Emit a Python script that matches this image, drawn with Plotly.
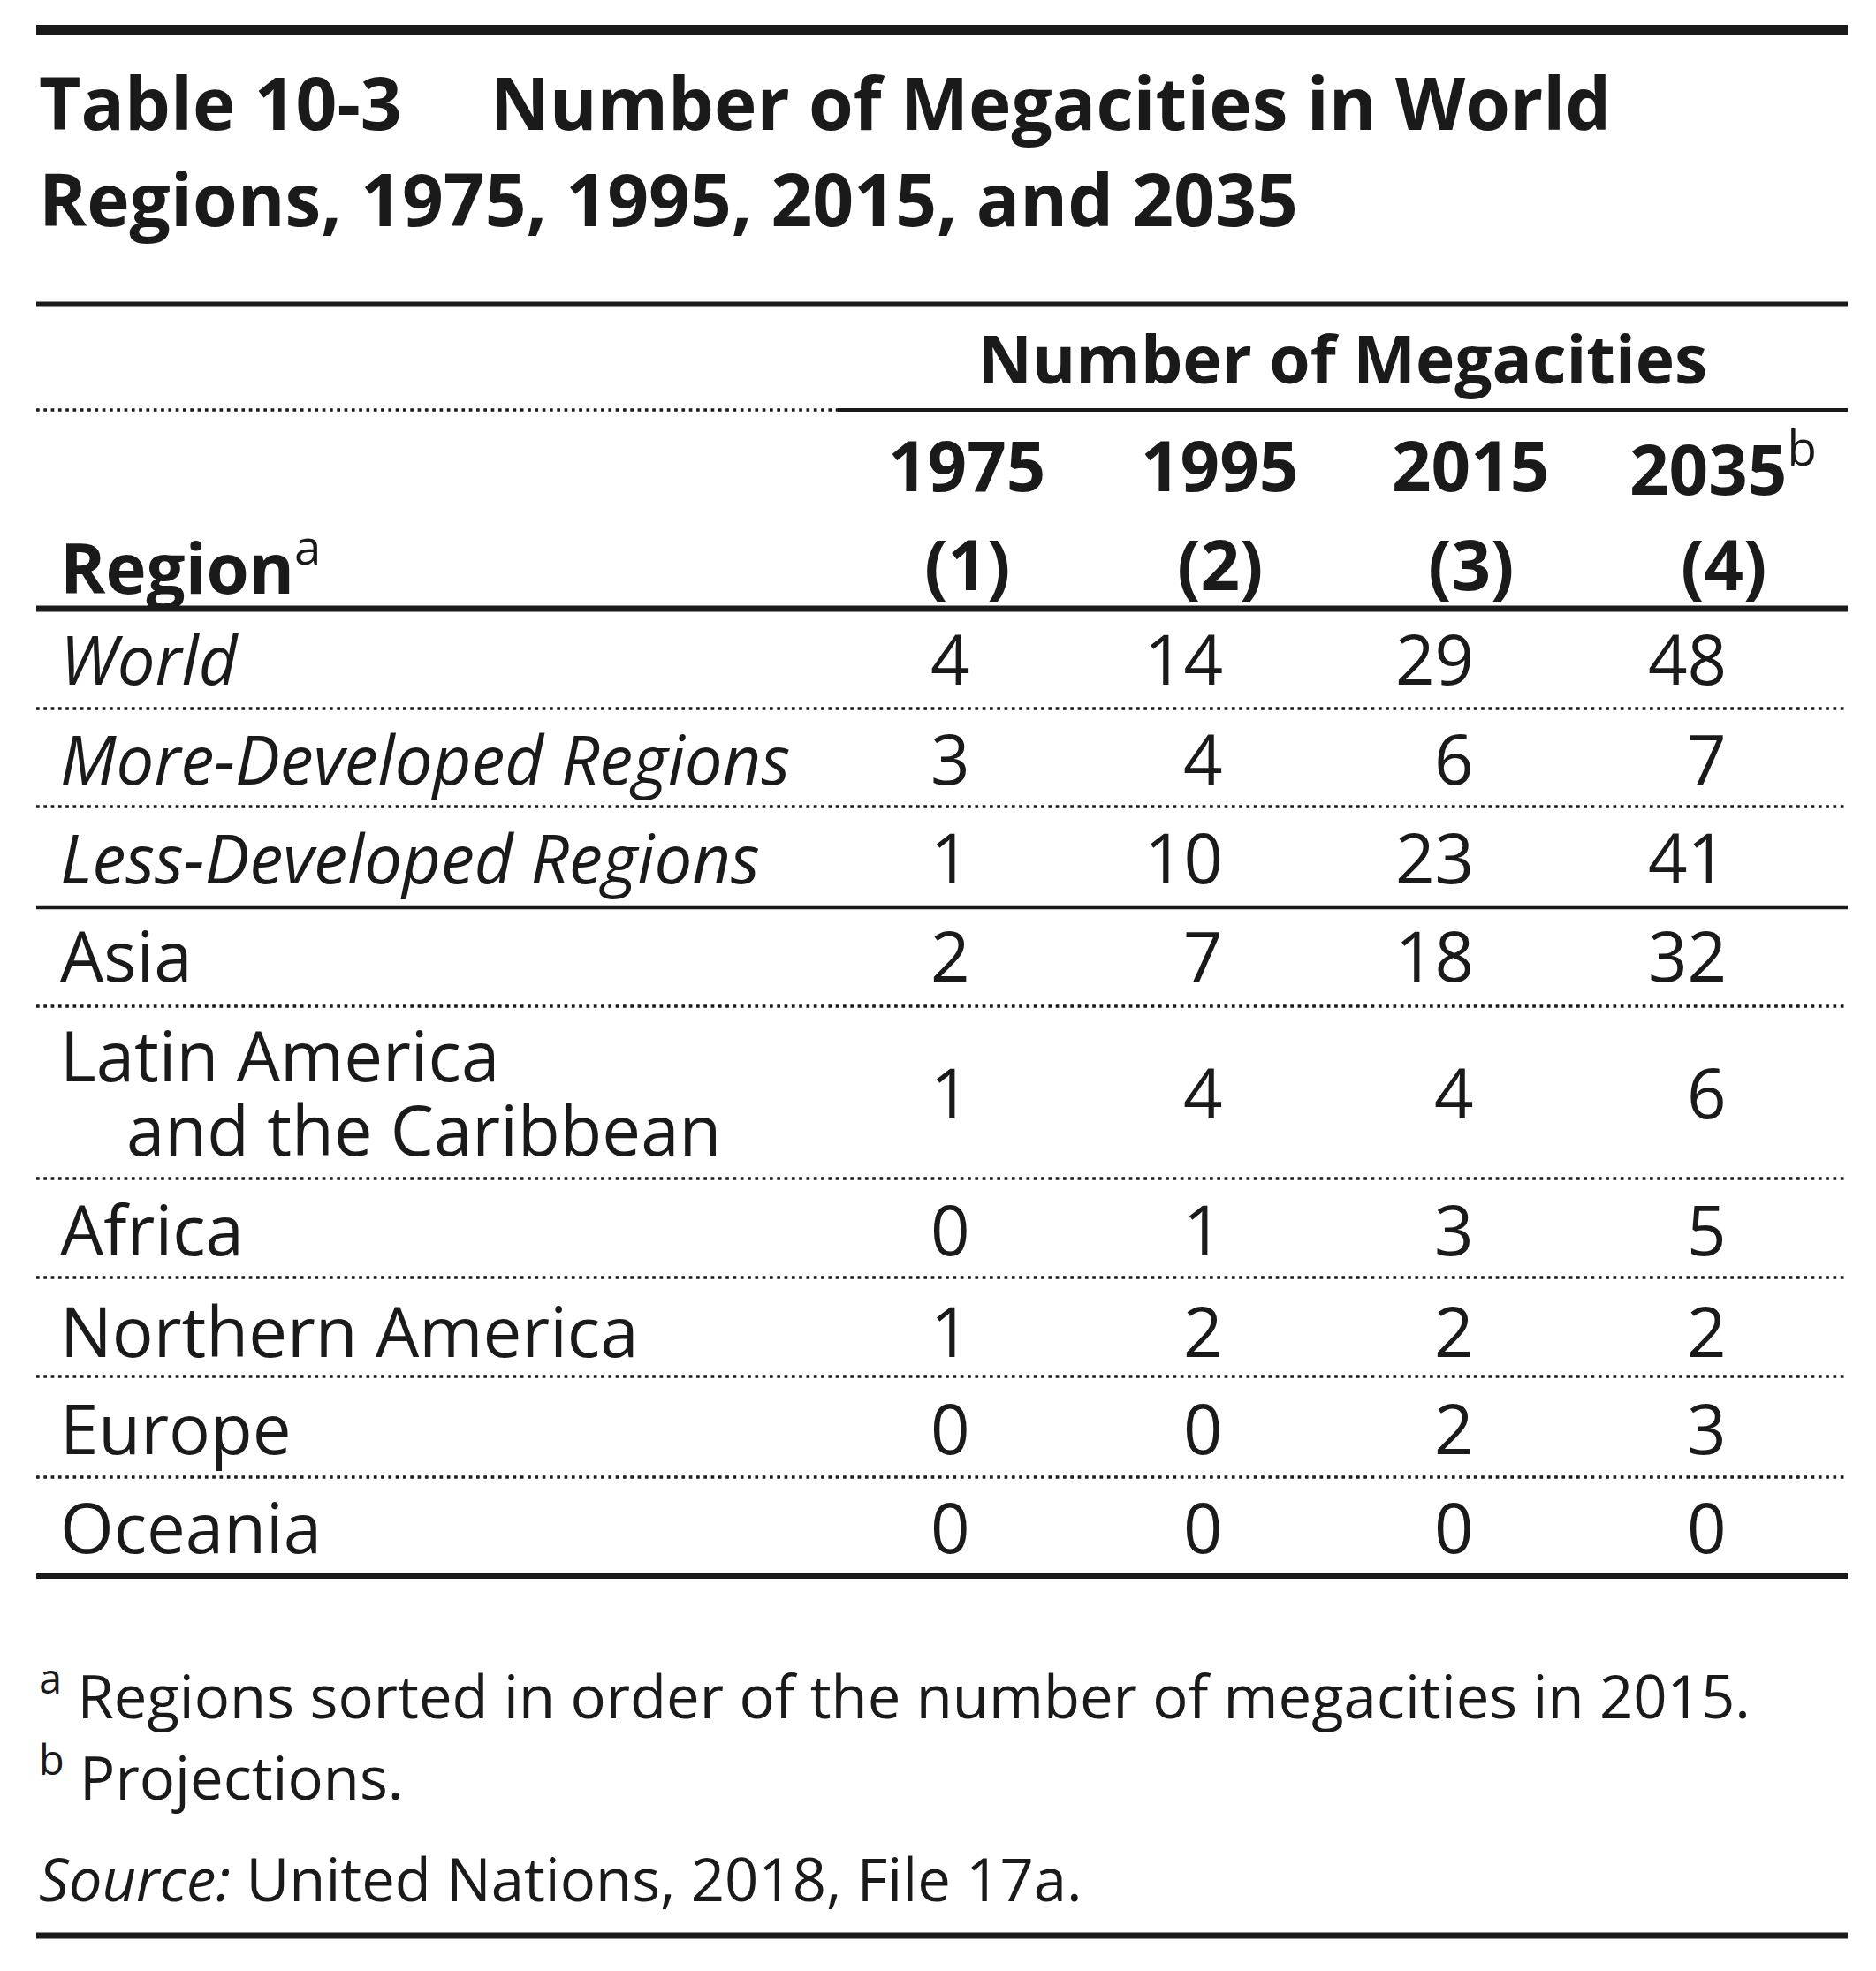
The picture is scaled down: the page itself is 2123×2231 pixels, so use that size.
import plotly.graph_objs as go

# datos de la tabla
regiones = ['World', 'More-Developed Regions', 'Less-Developed Regions', 'Asia',
            'Latin America\nand the Caribbean', 'Africa', 'Northern America', 'Europe', 'Oceania']
cursiva = [True, True, True, False, False, False, False, False, False]
anios = ['1975', '1995', '2015', '2035']
nota_anio = ['', '', '', 'b']
columnas = ['(1)', '(2)', '(3)', '(4)']
valores_1975 = [4, 3, 1, 2, 1, 0, 1, 0, 0]
valores_1995 = [14, 4, 10, 7, 4, 1, 2, 0, 0]
valores_2015 = [29, 6, 23, 18, 4, 3, 2, 2, 0]
valores_2035 = [48, 7, 41, 32, 6, 5, 2, 3, 0]

titulo_1 = 'Table 10-3'
titulo_2 = 'Number of Megacities in World'
titulo_3 = 'Regions, 1975, 1995, 2015, and 2035'
cabecera = 'Number of Megacities'
nota_a = 'Regions sorted in order of the number of megacities in 2015.'
nota_b = 'Projections.'
fuente = 'United Nations, 2018, File 17a.'

# maquetación (en píxeles de la imagen)
ANCHO, ALTO = 2123, 2231
X0, X1 = 41, 2091
X_TEXTO = 66
x_col = [1094, 1380, 1664, 1950]
DESV_NUM = 6  # los números van alineados a la derecha
y_fila = [745, 858, 970, 1081, 1236, 1391, 1506, 1616, 1728]
FUENTE = 'Open Sans'
NEGRO = '#1a1a1a'
T_CUERPO = 78
T_CURSIVA = 76
T_TITULO = 82
T_CABECERA = 78
T_NOTA = 67

fig = go.Figure()
anotaciones = []


def texto(x, y, s, size, anchor='left', bold=False):
    anotaciones.append(dict(x=x, y=y, xref='x', yref='y', text=s, showarrow=False,
                            xanchor=anchor, yanchor='middle',
                            font=dict(family=FUENTE, size=size, color=NEGRO,
                                      weight='bold' if bold else 'normal')))


def linea(xa, xb, y, w, punteada=False):
    fig.add_shape(type='line', xref='x', yref='y', x0=xa, x1=xb, y0=y, y1=y,
                  line=dict(color=NEGRO, width=w, dash='3.7px,4.6px' if punteada else 'solid'))


# título
texto(42, 115, titulo_1, T_TITULO, bold=True)
texto(553, 115, titulo_2, T_TITULO, bold=True)
texto(42, 224, titulo_3, T_TITULO, bold=True)

# cabecera
texto((948 + X1) / 2, 405, cabecera, 75, anchor='center', bold=True)
for i in range(len(anios)):
    s = '<b>' + anios[i] + '</b>'
    if nota_anio[i]:
        s += '<sup>' + nota_anio[i] + '</sup>'
    texto(x_col[i], 526, s, T_CABECERA, anchor='center')
    texto(x_col[i], 638, columnas[i], T_CABECERA, anchor='center', bold=True)
texto(X_TEXTO, 638, '<b>Region</b><sup>a</sup>', T_CABECERA)

# filas
series = [valores_1975, valores_1995, valores_2015, valores_2035]
for j, reg in enumerate(regiones):
    partes = reg.split('\n')
    if len(partes) == 1:
        if cursiva[j]:
            texto(X_TEXTO, y_fila[j], '<i>' + reg + '</i>', T_CURSIVA)
        else:
            texto(X_TEXTO, y_fila[j], reg, T_CUERPO)
    else:
        texto(X_TEXTO, y_fila[j] - 42, partes[0], T_CUERPO)
        texto(X_TEXTO + 75, y_fila[j] + 42, partes[1], T_CUERPO)
    for i, serie in enumerate(series):
        texto(x_col[i] + DESV_NUM, y_fila[j], str(serie[j]), T_CUERPO, anchor='right')

# notas y fuente
texto(42, 1916, '<sup>a</sup> ' + nota_a, T_NOTA)
texto(42, 2008, '<sup>b</sup> ' + nota_b, T_NOTA)
texto(42, 2126, '<i>Source:</i> ' + fuente, T_NOTA)

# líneas de la tabla
linea(X0, X1, 34, 12)
linea(X0, X1, 344, 5)
linea(X0, 948, 464, 3.7, punteada=True)
linea(948, X1, 464, 4)
linea(X0, X1, 689, 7)
for y in [802, 913, 1139, 1334, 1446, 1558, 1672]:
    linea(X0, X1, y, 3.7, punteada=True)
linea(X0, X1, 1027, 4.5)
linea(X0, X1, 1784, 6)
linea(X0, X1, 2191, 7)

fig.update_layout(width=ANCHO, height=ALTO, autosize=False,
                  margin=dict(l=0, r=0, t=0, b=0),
                  paper_bgcolor='white', plot_bgcolor='white',
                  annotations=anotaciones, showlegend=False)
fig.update_xaxes(range=[0, ANCHO], visible=False, fixedrange=True)
fig.update_yaxes(range=[ALTO, 0], visible=False, fixedrange=True)

# quitar el margen del body para que la tabla quede en su sitio
fig.write_html("out.html", config={'displayModeBar': False},
               post_script="document.body.style.margin='0';")
